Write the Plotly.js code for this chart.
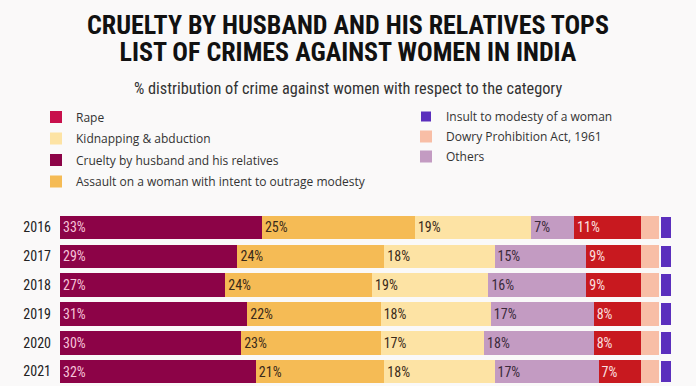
<!DOCTYPE html>
<html>
<head>
<meta charset="utf-8">
<script src="https://cdn.plot.ly/plotly-3.0.1.min.js"></script>
<style>html,body{margin:0;padding:0;background:#faf9f9;}#chart{width:696px;height:386px;}</style>
</head>
<body>
<div id="chart"></div>
<script>
const years = ['2016', '2017', '2018', '2019', '2020', '2021'];
const cruelty = [33, 29, 27, 30.6, 29.6, 32];
const assault = [25, 24, 24, 21.8, 22.8, 21];
const kidnapping = [19, 18, 19, 18, 16.9, 18];
const others = [7, 15, 16, 16.8, 17.9, 17];
const rape = [11, 9, 9, 7.8, 7.8, 7];
const dowry = [3, 3, 3, 3, 3, 3];
const insult = [2, 2, 2, 2, 2, 2];

const titleLine1 = 'CRUELTY BY HUSBAND AND HIS RELATIVES TOPS';
const titleLine2 = 'LIST OF CRIMES AGAINST WOMEN IN INDIA';
const subtitle = '% distribution of crime against women with respect to the category';

const NARROW = '"Liberation Sans Narrow", "Roboto Condensed", Roboto, sans-serif';
const LEGFONT = '"Open Sans", "Noto Sans", sans-serif';

function seg(name, values, color, textColor, legend, rank, showText, showLegend) {
  return {
    type: 'bar', orientation: 'h', name: name, x: values, y: years,
    marker: {color: color},
    text: showText ? values.map(v => Math.round(v) + '%') : undefined,
    textposition: showText ? 'inside' : 'none',
    insidetextanchor: 'start',
    constraintext: 'none',
    textfont: {family: NARROW, size: 14, color: textColor},
    legend: legend, legendrank: rank, legendgroup: name,
    showlegend: showLegend, hoverinfo: 'skip'
  };
}

const traces = [
  seg('Cruelty by husband and his relatives', cruelty, '#8c0347', '#f6c4da', 'legend', 3, true, true),
  seg('Assault on a woman with intent to outrage modesty', assault, '#f5bb55', '#3a2a1a', 'legend', 4, true, true),
  seg('Kidnapping & abduction', kidnapping, '#fde3a4', '#3a2a1a', 'legend', 2, true, true),
  seg('Others', others, '#c39bc2', '#3a2a3a', 'legend2', 3, true, true),
  seg('Rape bars', rape, '#c8191f', '#fbe0e0', 'legend', 1, true, false),
  seg('Dowry Prohibition Act, 1961', dowry, '#f8bea6', '#333', 'legend2', 2, false, true),
  seg('Insult to modesty of a woman', insult, '#5b2fbd', '#fff', 'legend2', 1, false, true),
  {type: 'bar', orientation: 'h', name: 'Rape', x: [null], y: [null], marker: {color: '#c8104c'},
   legend: 'legend', legendrank: 1, legendgroup: 'Rape', showlegend: true, hoverinfo: 'skip'}
];
traces[6].marker.line = {color: '#faf9f9', width: 2};

const plotH = 173;
function py(p) { return (386 - p) / plotH; }

const legendCommon = {
  bgcolor: 'rgba(0,0,0,0)', borderwidth: 0,
  font: {family: LEGFONT, size: 12, color: '#333'},
  traceorder: 'grouped', tracegroupgap: 2.5,
  xanchor: 'left', yanchor: 'top', orientation: 'v'
};

const layout = {
  width: 696, height: 386,
  paper_bgcolor: '#faf9f9', plot_bgcolor: '#faf9f9',
  margin: {l: 60, r: 24, t: 213, b: 0, pad: 0},
  barmode: 'stack', bargap: 0.185,
  showlegend: true,
  legend: Object.assign({}, legendCommon, {x: (36 - 60) / 612, y: py(102.5)}),
  legend2: Object.assign({}, legendCommon, {x: (406 - 60) / 612, y: py(102), tracegroupgap: 1}),
  xaxis: {range: [0, 100], visible: false, fixedrange: true},
  yaxis: {
    type: 'category', categoryorder: 'array', categoryarray: years,
    autorange: 'reversed', showgrid: false, zeroline: false, showline: false,
    ticks: '', ticklabelstandoff: 8,
    tickfont: {family: NARROW, size: 14, color: '#222'}
  },
  annotations: [
    {text: '<span style="font-size:26px"><b>' + titleLine1 + '</b></span><br>' +
           '<span style="font-size:26px"><b>' + titleLine2 + '</b></span>',
     xref: 'paper', yref: 'paper', x: (348 - 60) / 612, y: py(38.5),
     xanchor: 'center', yanchor: 'middle', align: 'center', showarrow: false,
     font: {family: NARROW, size: 20.8, color: '#111'}},
    {text: subtitle, xref: 'paper', yref: 'paper', x: (348 - 60) / 612, y: py(89),
     xanchor: 'center', yanchor: 'middle', showarrow: false,
     font: {family: NARROW, size: 16.3, color: '#333'}}
  ]
};

Plotly.newPlot('chart', traces, layout, {displayModeBar: false, staticPlot: true});
</script>
</body>
</html>
